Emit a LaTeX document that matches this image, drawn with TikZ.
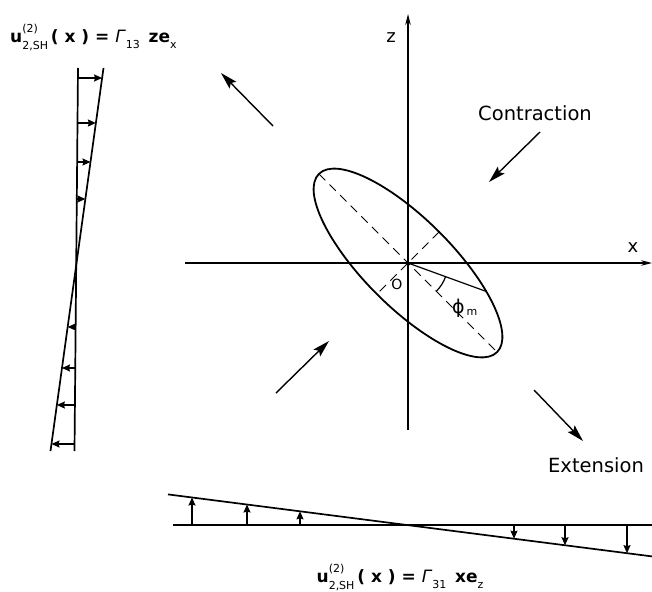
\documentclass[tikz,border=0pt]{standalone}
\usepackage{fontspec}
\setmainfont{DejaVu Sans}
\usetikzlibrary{arrows.meta,calc}
\newcommand{\ssc}[1]{\mbox{\fontsize{11}{11}\mdseries\selectfont #1}}
\newcommand{\supsubs}[2]{\raisebox{10pt}{\rlap{\ssc{#1}}}\raisebox{-7pt}{\ssc{#2}}}
\newcommand{\subonly}[1]{\raisebox{-6pt}{\ssc{#1}}}
\begin{document}
\begin{tikzpicture}[x=1pt,y=-1pt,
  axisline/.style={line width=1.3pt,-{Stealth[length=11pt,width=5.5pt]}},
  flow/.style={line width=1.4pt,-{Stealth[length=17pt,width=9.5pt,inset=3pt]}},
  prof/.style={line width=1.7pt},
  vec/.style={line width=1.4pt,-{Stealth[length=8pt,width=7pt,inset=1pt]}},
  dashax/.style={line width=1pt,dash pattern=on 9pt off 6pt},
  lab/.style={font=\fontsize{19.5}{20}\selectfont,inner sep=0pt},
  axlab/.style={font=\fontsize{18}{18}\selectfont,inner sep=0pt},
  eqlab/.style={font=\fontsize{17}{17}\selectfont\bfseries,inner sep=0pt}]
\useasboundingbox (0,0) rectangle (652,591);
% axes
\coordinate (O) at (408,263);
\coordinate (zb) at (408,430);
\coordinate (zt) at (408,14);
\coordinate (xl) at (185,263);
\coordinate (xr) at (652,263);
\draw[axisline] (zb) -- (zt);
\draw[axisline] (xl) -- (xr);
\node[axlab] (zlab) at (391,38) {z};
\node[axlab] (xlab) at (633,248) {x};
% ellipse
\draw[line width=1.8pt, rotate around={-45:(O)}] (O) ellipse [x radius=126pt, y radius=44pt];
\coordinate (A1) at (318.9,173.9);
\coordinate (A2) at (497.1,352.1);
\coordinate (B1) at (439.1,231.9);
\coordinate (B2) at (376.9,294.1);
\draw[dashax] (A1) -- (A2);
\draw[dashax] (B1) -- (B2);
\coordinate (P) at (486.4,291.5);
\draw[line width=1.2pt] (O) -- (P);
\draw[line width=1.2pt] (O) ++(-20:40pt) arc[start angle=-20,end angle=-45,radius=40pt];
\node[font=\fontsize{14}{14}\selectfont,inner sep=0pt] (olab) at (397,284) {O};
\node[font=\fontsize{19}{19}\selectfont,inner sep=0pt,anchor=base west] (philab) at (452,313) {ϕ\raisebox{-2pt}{\fontsize{11}{11}\selectfont\,m}};
% flow arrows
\coordinate (e1s) at (273,126); \coordinate (e1t) at (221,73);
\coordinate (c1s) at (540,132); \coordinate (c1t) at (489,182);
\coordinate (c2s) at (276,393); \coordinate (c2t) at (329,341);
\coordinate (e2s) at (534,390); \coordinate (e2t) at (583,441);
\draw[flow] (e1s) -- (e1t);
\draw[flow] (c1s) -- (c1t);
\draw[flow] (c2s) -- (c2t);
\draw[flow] (e2s) -- (e2t);
\node[lab] (contr) at (535,113) {Contraction};
\node[lab] (ext) at (596,465) {Extension};
% left profile
\coordinate (Lb1) at (78,68); \coordinate (Lb2) at (74.5,451);
\coordinate (Ls1) at (103.5,68); \coordinate (Ls2) at (50.5,451);
\draw[prof] (Lb1) -- (Lb2);
\draw[prof] (Ls1) -- (Ls2);
\foreach \t [count=\i] in {0.0261,0.1436,0.2454,0.342,0.6762,0.7833,0.8799,0.9817} {
  \coordinate (lb\i) at ($(Lb1)!\t!(Lb2)$);
  \coordinate (ls\i) at ($(Ls1)!\t!(Ls2)$);
  \draw[vec] (lb\i) -- (ls\i);
}
\node[eqlab,anchor=base west] (toplab) at (10,43) {u\supsubs{(2)}{2,SH}\,( x ) = \textit{\mdseries Γ}\subonly{13}\, ze\subonly{x}};
% bottom profile
\coordinate (Bb1) at (173,525); \coordinate (Bb2) at (652,525);
\coordinate (Bs1) at (168,494.4); \coordinate (Bs2) at (652,556.4);
\draw[prof] (Bb1) -- (Bb2);
\draw[prof] (Bs1) -- (Bs2);
\foreach \xx [count=\i] in {192,247,300,514,565,627} {
  \coordinate (bb\i) at (\xx,525);
  \coordinate (bs\i) at (\xx,{525+(\xx-407)*0.128});
  \draw[vec] (bb\i) -- (bs\i);
}
\node[eqlab,anchor=base] (botlab) at (400,582) {u\supsubs{(2)}{2,SH}\,( x ) = \textit{\mdseries Γ}\subonly{31}\, xe\subonly{z}};
\end{tikzpicture}
\end{document}
